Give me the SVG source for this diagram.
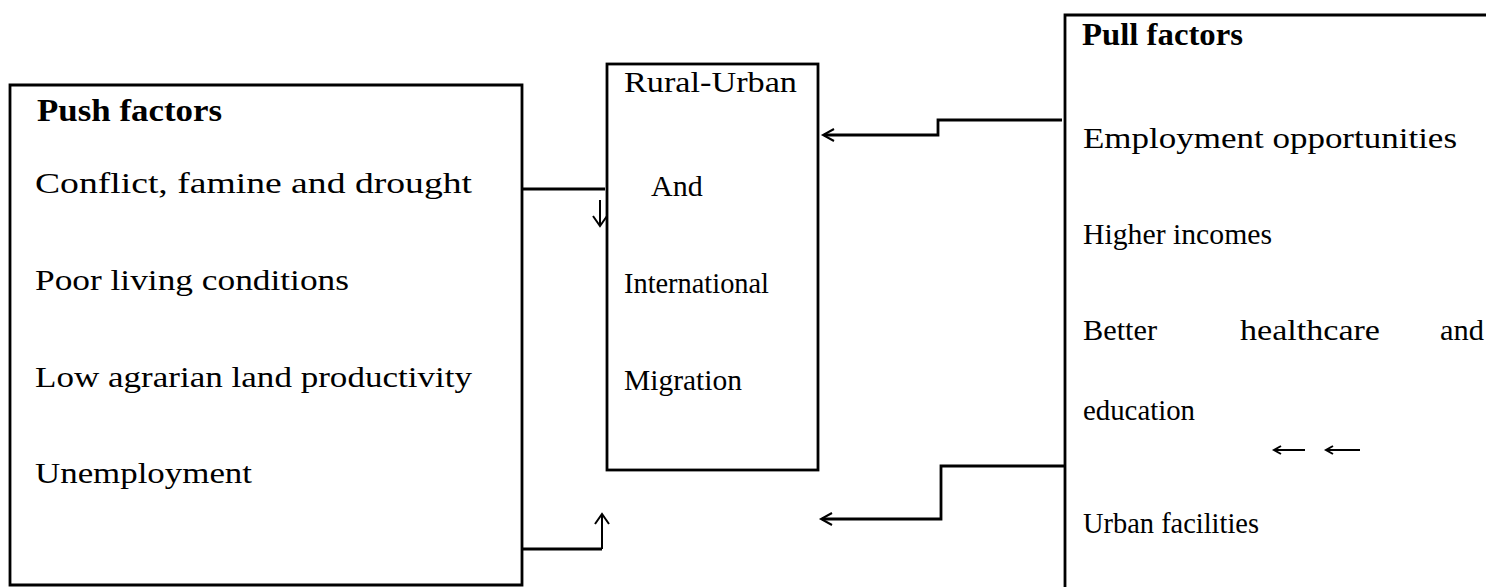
<svg xmlns="http://www.w3.org/2000/svg" width="1486" height="587" viewBox="0 0 1486 587">
<style>
.box{fill:none;stroke:#000;stroke-width:2.8}
.t{font-family:"Liberation Serif","Times New Roman",serif;font-size:30px;fill:#000}
.b{font-weight:bold;font-size:32px}
.c{fill:none;stroke:#000;stroke-width:2.8}
.a{fill:none;stroke:#000;stroke-width:2}
</style>
<rect width="1486" height="587" fill="#fff"/>
<g id="push">
<path class="box" d="M522,585 V85 H10 V585 Z"/>
<text class="t b" x="37" y="121" textLength="185" lengthAdjust="spacingAndGlyphs">Push factors</text>
<text class="t" x="35" y="193" textLength="437" lengthAdjust="spacingAndGlyphs">Conflict, famine and drought</text>
<text class="t" x="35" y="290" textLength="314" lengthAdjust="spacingAndGlyphs">Poor living conditions</text>
<text class="t" x="35" y="387" textLength="437" lengthAdjust="spacingAndGlyphs">Low agrarian land productivity</text>
<text class="t" x="35" y="483" textLength="217" lengthAdjust="spacingAndGlyphs">Unemployment</text>
</g>
<g id="migration">
<rect class="box" x="607" y="64" width="211" height="406"/>
<text class="t" x="624" y="92" textLength="173" lengthAdjust="spacingAndGlyphs">Rural-Urban</text>
<text class="t" x="651" y="196">And</text>
<text class="t" x="624" y="293" textLength="145" lengthAdjust="spacingAndGlyphs">International</text>
<text class="t" x="624" y="390" textLength="118" lengthAdjust="spacingAndGlyphs">Migration</text>
</g>
<g id="pull">
<path class="box" d="M1486,15 H1065 V587"/>
<text class="t b" x="1082" y="45" textLength="161" lengthAdjust="spacingAndGlyphs">Pull factors</text>
<text class="t" x="1083" y="148" textLength="374" lengthAdjust="spacingAndGlyphs">Employment opportunities</text>
<text class="t" x="1083" y="244" textLength="189" lengthAdjust="spacingAndGlyphs">Higher incomes</text>
<text class="t" x="1083" y="340" textLength="74" lengthAdjust="spacingAndGlyphs">Better</text>
<text class="t" x="1240" y="340" textLength="140" lengthAdjust="spacingAndGlyphs">healthcare</text>
<text class="t" x="1440" y="340" textLength="44" lengthAdjust="spacingAndGlyphs">and</text>
<text class="t" x="1083" y="420" textLength="112" lengthAdjust="spacingAndGlyphs">education</text>
<text class="t" x="1083" y="533" textLength="176" lengthAdjust="spacingAndGlyphs">Urban facilities</text>
</g>
<g id="connectors">
<path class="c" d="M522,189 H605"/>
<path class="a" d="M600,200 V225 M593,216 L600,226 L607,216"/>
<path class="c" d="M522,549 H602"/>
<path class="a" d="M602,549 V514 M595,524 L602,514 L609,524"/>
<path class="c" d="M1062,120 H938 V135 H824"/>
<path class="a" d="M834,129 L823,135 L834,141"/>
<path class="c" d="M1065,466 H941 V519 H822"/>
<path class="a" d="M832,513 L821,519 L832,525"/>
<path class="a" d="M1305,450 H1274 M1281,446 L1274,450 L1281,454"/>
<path class="a" d="M1360,450 H1326 M1333,446 L1326,450 L1333,454"/>
</g>
</svg>
